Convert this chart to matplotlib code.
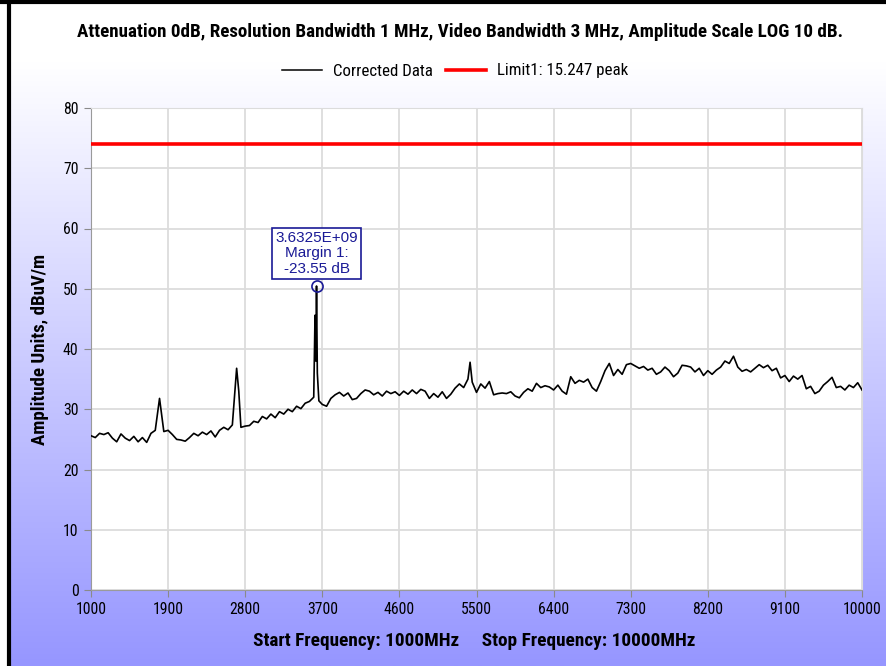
import numpy as np
import matplotlib
matplotlib.use("Agg")
import matplotlib.pyplot as plt
from matplotlib.lines import Line2D
from matplotlib import font_manager as fm

# ---------------- data ----------------
freq_mhz = [1000, 1050, 1100, 1150, 1200, 1250, 1300, 1350, 1400, 1450, 1500, 1550, 1600, 1650, 1700, 1750,
            1800, 1825, 1850, 1900, 1950, 2000, 2050, 2100, 2150, 2200, 2250, 2300, 2350, 2400, 2450, 2500,
            2550, 2600, 2650, 2700, 2725, 2750, 2800, 2850, 2900, 2950, 3000, 3050, 3100, 3150, 3200, 3250,
            3300, 3350, 3400, 3450, 3500, 3550, 3600, 3615, 3625, 3632.5, 3642, 3660, 3700, 3750, 3800, 3850,
            3900, 3950, 4000, 4050, 4100, 4150, 4200, 4250, 4300, 4350, 4400, 4450, 4500, 4550, 4600, 4650,
            4700, 4750, 4800, 4850, 4900, 4950, 5000, 5050, 5100, 5150, 5200, 5250, 5300, 5350, 5400, 5425,
            5450, 5500, 5550, 5600, 5650, 5700, 5750, 5800, 5850, 5900, 5950, 6000, 6050, 6100, 6150, 6200,
            6250, 6300, 6350, 6400, 6450, 6500, 6550, 6600, 6650, 6700, 6750, 6800, 6850, 6900, 6950, 7000,
            7050, 7100, 7150, 7200, 7250, 7300, 7350, 7400, 7450, 7500, 7550, 7600, 7650, 7700, 7750, 7800,
            7850, 7900, 7950, 8000, 8050, 8100, 8150, 8200, 8250, 8300, 8350, 8400, 8450, 8500, 8550, 8600,
            8650, 8700, 8750, 8800, 8850, 8900, 8950, 9000, 9050, 9100, 9150, 9200, 9250, 9300, 9350, 9400,
            9450, 9500, 9550, 9600, 9650, 9700, 9750, 9800, 9850, 9900, 9950, 10000]
amplitude = [25.6, 25.3, 26.0, 25.8, 26.1, 25.2, 24.6, 25.9, 25.2, 24.8, 25.5, 24.6, 25.3, 24.5, 26.0, 26.5,
             31.8, 29.0, 26.3, 26.5, 25.8, 25.0, 24.9, 24.7, 25.3, 26.0, 25.6, 26.2, 25.8, 26.4, 25.4, 26.5,
             27.0, 26.6, 27.4, 36.8, 33.0, 27.0, 27.2, 27.3, 28.0, 27.8, 28.8, 28.4, 29.2, 28.6, 29.6, 29.2,
             30.0, 29.6, 30.5, 30.1, 31.0, 31.3, 32.0, 45.6, 38.0, 50.45, 36.0, 31.4, 30.8, 30.5, 31.8, 32.4,
             32.8, 32.2, 32.7, 31.6, 31.8, 32.6, 33.2, 33.0, 32.4, 32.8, 32.2, 33.0, 32.6, 32.9, 32.3, 33.0,
             32.5, 33.2, 32.6, 33.3, 33.0, 31.8, 32.6, 32.0, 32.9, 31.8, 32.5, 33.5, 34.2, 33.6, 35.0, 37.8,
             34.5, 32.8, 34.2, 33.5, 34.6, 32.4, 32.6, 32.7, 32.6, 32.9, 32.2, 31.9, 32.8, 33.4, 33.0, 34.3,
             33.6, 33.9, 33.7, 33.2, 34.0, 33.0, 32.5, 35.4, 34.3, 34.8, 34.5, 35.0, 33.6, 33.0, 34.6, 36.4,
             37.6, 35.6, 36.6, 35.8, 37.4, 37.6, 37.2, 36.8, 37.1, 36.5, 36.8, 35.8, 36.2, 37.0, 36.4, 35.4,
             36.0, 37.3, 37.2, 37.0, 36.2, 36.8, 35.6, 36.4, 35.8, 36.5, 37.0, 38.0, 37.6, 38.8, 37.0, 36.3,
             36.6, 36.2, 36.8, 37.4, 36.9, 37.3, 36.4, 36.8, 35.2, 35.6, 34.6, 35.5, 35.0, 35.6, 33.4, 33.8,
             32.6, 33.0, 34.0, 34.6, 35.3, 33.6, 33.8, 33.2, 34.0, 33.6, 34.4, 33.2]
limit_level = 74.0
marker_freq = 3632.5
marker_amp = 50.45
marker_text = "3.6325E+09\nMargin 1:\n-23.55 dB"
x_ticks = [1000, 1900, 2800, 3700, 4600, 5500, 6400, 7300, 8200, 9100, 10000]
y_ticks = [0, 10, 20, 30, 40, 50, 60, 70, 80]
title_text = "Attenuation 0dB, Resolution Bandwidth 1 MHz, Video Bandwidth 3 MHz, Amplitude Scale LOG 10 dB."
xlabel_text = "Start Frequency: 1000MHz     Stop Frequency: 10000MHz"
ylabel_text = "Amplitude Units, dBuV/m"
legend_labels = ["Corrected Data", "Limit1: 15.247 peak"]

# ---------------- fonts ----------------
names = {f.name for f in fm.fontManager.ttflist}
narrow = None
for cand in ['Liberation Sans Narrow', 'DejaVu Sans Condensed', 'Arial Narrow', 'Roboto Condensed',
             'Open Sans Condensed']:
    if cand in names:
        narrow = cand
        break
FAM = ([narrow] if narrow else []) + ['Liberation Sans', 'DejaVu Sans']
plt.rcParams['font.family'] = FAM

W, H = 886, 666
fig = plt.figure(figsize=(W / 100, H / 100), dpi=100)
fig.patch.set_facecolor('white')
renderer = fig.canvas.get_renderer()


def fit(txt, target, horizontal=True):
    for _ in range(3):
        bb = txt.get_window_extent(renderer)
        cur = bb.width if horizontal else bb.height
        if cur > 0:
            txt.set_fontsize(txt.get_fontsize() * target / cur)


# background gradient
bg = fig.add_axes([10 / W, 0, 1 - 10 / W, 1 - 3 / H], zorder=-10)
bg.set_axis_off()
rows = np.linspace(0, 1, 400)
t = np.clip((rows * H - 60) / (H - 60), 0, 1)
top = np.array([1.0, 1.0, 1.0])
bot = np.array([150, 150, 255]) / 255
grad = top[None, :] * (1 - t[:, None]) + bot[None, :] * t[:, None]
bg.imshow(grad[:, None, :], aspect='auto', extent=[0, 1, 0, 1], origin='upper')
bg.set_xlim(0, 1)
bg.set_ylim(0, 1)

fig.add_artist(Line2D([9 / W, 9 / W], [0, 1], transform=fig.transFigure, color='black', lw=3))
fig.add_artist(Line2D([0, 1], [1 - 1.5 / H, 1 - 1.5 / H], transform=fig.transFigure, color='black', lw=3))

ax = fig.add_axes([91 / W, 1 - 590 / H, (862 - 91) / W, (590 - 108) / H])
ax.set_facecolor('white')
ax.plot(freq_mhz, amplitude, color='black', lw=1.2, zorder=3)
ax.axhline(limit_level, color='#ff0000', lw=2.6, zorder=3)
ax.plot([marker_freq], [marker_amp], marker='o', ms=8, mfc='none', mec='#1a1a96', mew=1.2, zorder=4)
ann = ax.annotate(marker_text, xy=(marker_freq, marker_amp), xytext=(0, 10), textcoords='offset pixels',
                  ha='center', va='bottom', color='#1a1a96', fontsize=11, linespacing=1.15,
                  family=['Liberation Sans', 'DejaVu Sans'],
                  bbox=dict(boxstyle='square,pad=0.2', fc='white', ec='#1a1a96', lw=1.2), zorder=5)

ax.set_xlim(1000, 10000)
ax.set_ylim(0, 80)
ax.set_xticks(x_ticks)
ax.set_yticks(y_ticks)
ax.set_xticklabels([str(v) for v in x_ticks])
ax.grid(True, color='#dcdcdc', lw=1.3, zorder=0)
ax.set_axisbelow(True)
for s in ['top', 'right']:
    ax.spines[s].set_color('#dcdcdc')
for s in ['left', 'bottom']:
    ax.spines[s].set_color('#9a9a9a')
ax.tick_params(axis='both', direction='out', length=5, color='#8a8a8a', labelsize=11.5, labelcolor='#000000', pad=4)

probe = fig.text(0, 0, "1000", fontsize=11)
fit(probe, 31)
tick_fs = probe.get_fontsize()
probe.remove()
ax.tick_params(axis='both', labelsize=tick_fs)

tt = fig.text(460 / W, 1 - 32 / H, title_text, ha='center', va='center', fontsize=12.5, fontweight='bold')
fit(tt, 764)
xl = fig.text(474 / W, 1 - 641 / H, xlabel_text, ha='center', va='center', fontsize=12.5, fontweight='bold')
fit(xl, 441)
yl = fig.text(40 / W, 1 - 349 / H, ylabel_text, ha='center', va='center', rotation=90, fontsize=12.5,
              fontweight='bold')
fit(yl, 192, horizontal=False)

probe = fig.text(0, 0, legend_labels[0], fontsize=11)
fit(probe, 100)
leg_fs = probe.get_fontsize()
probe.remove()

handles = [Line2D([], [], color='black', lw=1.1), Line2D([], [], color='#ff0000', lw=2.6)]
fig.legend(handles, legend_labels, loc='center', bbox_to_anchor=(455 / W, 1 - 71 / H), ncol=2,
           frameon=False, fontsize=leg_fs, handlelength=40 / (leg_fs * 100 / 72),
           handletextpad=11 / (leg_fs * 100 / 72), columnspacing=13 / (leg_fs * 100 / 72))

fig.savefig('out.png', dpi=100)
